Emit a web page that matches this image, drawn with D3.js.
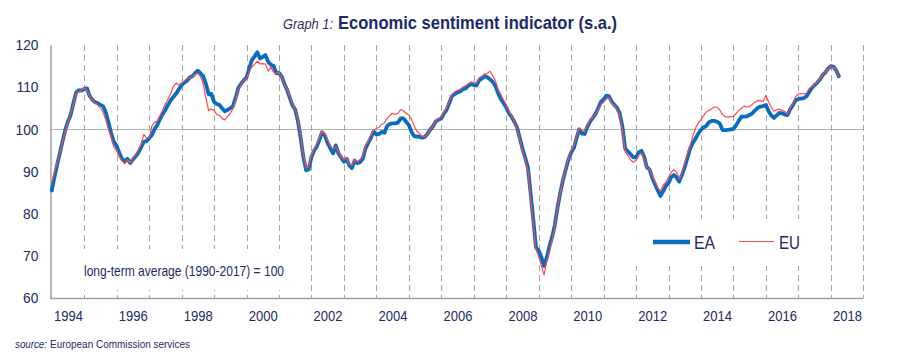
<!DOCTYPE html>
<html>
<head>
<meta charset="utf-8">
<script src="https://cdn.jsdelivr.net/npm/d3@7/dist/d3.min.js"></script>
<style>
  html, body { margin: 0; padding: 0; background: #ffffff; }
  svg { display: block; }
  text { font-family: 'Liberation Sans Narrow', 'Arial Narrow', 'Liberation Sans', Arial, sans-serif; }
</style>
</head>
<body>
<svg id="chart" width="903" height="357"></svg>
<script>
// ---- data (monthly, from January 1994) ----
const startMonth = "1994-01";
const eaValues = [
  85.5, 88.8, 91.5, 94.3, 97.1, 99.8, 101.8, 103.4, 106.2, 108.7, 109.3, 109.2,   // 1994
  109.6, 109.7, 108.0, 107.0, 106.5, 106.2, 105.8, 105.5, 104.0, 101.6, 99.0, 97.0, // 1995
  96.1, 94.3, 93.0, 92.4, 93.0, 92.0, 92.8, 93.6, 94.5, 95.7, 97.0, 97.2,         // 1996
  97.9, 98.7, 100.0, 101.0, 102.4, 103.6, 104.6, 105.8, 106.9, 107.7, 108.5, 109.5, // 1997
  110.5, 111.1, 111.5, 112.3, 112.6, 113.3, 113.9, 113.3, 112.6, 110.8, 108.3, 108.4, // 1998
  106.5, 106.0, 105.8, 105.0, 104.3, 104.6, 105.0, 105.5, 107.5, 109.8, 110.8, 111.6, // 1999
  112.3, 114.5, 116.4, 117.3, 118.3, 116.8, 117.2, 117.6, 116.0, 115.3, 115.0, 113.3, // 2000
  113.4, 112.5, 110.8, 109.4, 107.5, 105.7, 104.7, 102.0, 98.0, 93.5, 90.3, 90.5,   // 2001
  93.5, 95.0, 95.9, 97.6, 99.3, 98.5, 96.8, 95.5, 94.3, 96.2, 94.3, 93.3,           // 2002
  92.3, 93.0, 91.5, 90.8, 92.6, 92.0, 92.2, 93.0, 95.5, 96.8, 98.0, 99.5,           // 2003
  98.8, 98.9, 99.4, 99.2, 100.8, 101.3, 101.4, 101.4, 101.6, 102.6, 102.6, 101.8,   // 2004
  101.0, 99.3, 98.4, 98.3, 98.2, 98.0, 98.2, 99.0, 100.0, 100.8, 101.9, 102.3,      // 2005
  102.6, 103.8, 104.6, 106.3, 107.9, 108.4, 108.7, 109.0, 109.5, 109.7, 110.4, 110.7, // 2006
  110.5, 110.4, 111.6, 112.0, 112.6, 112.4, 111.9, 111.3, 110.3, 108.6, 107.2, 106.3, // 2007
  105.2, 103.8, 103.0, 101.8, 100.5, 98.0, 95.5, 93.3, 91.0, 85.0, 78.5, 72.0,      // 2008
  71.2, 69.6, 67.6, 69.5, 72.2, 74.5, 77.3, 81.5, 85.0, 88.0, 90.5, 92.8,           // 2009
  94.5, 95.6, 97.8, 100.0, 99.0, 98.9, 100.6, 101.8, 102.7, 103.6, 105.0, 106.5,    // 2010
  107.1, 108.0, 107.9, 106.6, 105.8, 105.1, 103.8, 100.6, 95.4, 94.8, 94.1, 93.4,   // 2011
  93.3, 94.6, 94.9, 93.5, 91.0, 90.5, 88.5, 87.0, 85.5, 84.2, 85.3, 86.6,           // 2012
  87.3, 88.7, 89.2, 88.6, 87.6, 89.2, 91.0, 93.2, 95.5, 96.8, 97.8, 99.0,           // 2013
  99.9, 100.5, 100.8, 101.7, 102.0, 102.0, 101.8, 101.3, 99.8, 99.8, 99.9, 100.0,   // 2014
  100.1, 101.0, 102.0, 103.0, 103.0, 103.1, 103.4, 103.8, 104.5, 105.1, 105.4, 105.5, // 2015
  105.8, 104.3, 103.3, 102.7, 103.3, 103.9, 103.8, 103.5, 103.4, 104.8, 105.8, 106.9, // 2016
  107.2, 107.3, 107.4, 107.8, 108.8, 109.8, 110.5, 111.1, 111.8, 112.9, 113.5, 114.4, // 2017
  115.0, 114.8, 114.0, 112.6                                                         // 2018
];
const euValues = [
  87.5, 89.8, 92.0, 94.5, 97.0, 99.5, 101.5, 103.5, 106.0, 108.5, 108.8, 109.3,     // 1994
  109.8, 109.3, 108.0, 106.8, 106.3, 105.8, 105.0, 104.0, 102.2, 100.0, 98.0, 95.8, // 1995
  95.0, 93.5, 92.5, 91.8, 92.8, 92.0, 93.2, 94.0, 95.0, 96.5, 98.8, 98.0,           // 1996
  98.0, 100.8, 101.6, 102.0, 103.2, 104.5, 106.0, 107.2, 108.5, 110.2, 111.0, 110.5, // 1997
  111.0, 111.5, 112.0, 112.3, 112.5, 113.0, 113.3, 112.5, 110.8, 107.5, 104.4, 104.8, // 1998
  104.5, 103.5, 103.4, 102.6, 102.2, 103.0, 103.8, 104.8, 107.0, 109.5, 110.6, 111.5, // 1999
  112.0, 113.8, 114.8, 115.4, 116.2, 115.5, 115.6, 115.5, 113.8, 114.8, 113.5, 113.2, // 2000
  113.5, 112.3, 110.6, 109.5, 107.8, 105.9, 104.8, 102.4, 98.5, 94.0, 90.8, 91.2,   // 2001
  94.0, 95.4, 96.6, 98.0, 99.6, 99.0, 97.5, 96.0, 95.3, 95.8, 94.6, 93.5,           // 2002
  92.8, 93.2, 91.8, 91.5, 92.8, 92.3, 92.8, 93.8, 96.2, 97.3, 98.6, 99.8,           // 2003
  100.2, 100.5, 101.2, 101.5, 102.6, 103.3, 103.8, 103.5, 103.8, 104.7, 104.4, 103.8, // 2004
  103.4, 102.3, 100.8, 99.6, 98.9, 98.3, 98.2, 98.9, 100.0, 100.9, 102.1, 102.6,    // 2005
  103.0, 104.2, 105.1, 106.8, 108.3, 108.9, 109.2, 109.5, 110.0, 110.3, 110.8, 111.2, // 2006
  111.2, 111.0, 112.2, 112.6, 113.1, 113.2, 113.8, 112.8, 111.6, 109.5, 108.3, 107.0, // 2007
  105.8, 104.3, 103.3, 101.8, 100.3, 97.6, 95.0, 92.8, 90.4, 84.0, 77.2, 71.5,      // 2008
  69.8, 67.5, 65.5, 68.5, 71.0, 73.8, 77.0, 81.3, 85.0, 88.2, 90.7, 93.2,           // 2009
  95.0, 96.3, 98.2, 100.3, 99.8, 99.4, 101.0, 102.1, 102.9, 103.6, 104.6, 105.9,    // 2010
  106.4, 107.2, 107.5, 106.1, 105.7, 104.8, 103.2, 99.8, 94.6, 93.8, 92.8, 92.2,    // 2011
  92.6, 93.9, 94.3, 93.0, 91.0, 90.6, 88.9, 87.6, 86.2, 85.3, 86.8, 87.4,           // 2012
  88.7, 89.9, 90.4, 89.8, 88.2, 89.8, 92.0, 94.3, 96.2, 98.4, 100.3, 101.5,         // 2013
  102.3, 103.3, 104.1, 104.5, 104.9, 105.3, 105.2, 104.6, 103.5, 103.0, 102.9, 103.0, // 2014
  103.0, 103.8, 104.5, 105.0, 105.5, 105.3, 105.4, 105.9, 106.5, 106.8, 106.8, 106.6, // 2015
  108.1, 106.5, 105.2, 104.3, 104.6, 104.8, 104.5, 104.2, 103.6, 105.0, 106.2, 107.8, // 2016
  108.4, 108.5, 108.4, 108.6, 109.7, 110.1, 110.8, 111.2, 111.9, 113.0, 113.6, 114.3, // 2017
  114.9, 114.7, 113.9, 112.5                                                         // 2018
];
const yTicks = [60, 70, 80, 90, 100, 110, 120];
const xLabelYears = [1994, 1996, 1998, 2000, 2002, 2004, 2006, 2008, 2010, 2012, 2014, 2016, 2018];
const gridYears = d3.range(1995, 2020);
const seriesNames = ["EA", "EU"];

// ---- layout ----
const svg = d3.select("#chart");
const navy = "#1b2a68";
const fontFam = "'Liberation Sans Narrow', 'Arial Narrow', 'Liberation Sans', Arial, sans-serif";
const parse = d3.timeParse("%Y-%m");
const t0 = parse(startMonth);
const dateOf = i => d3.timeMonth.offset(t0, i);

// condense text horizontally (narrow typeface look)
function condense(sel, factor) {
  sel.each(function () {
    const w = this.getComputedTextLength();
    d3.select(this).attr("textLength", (w * factor).toFixed(1)).attr("lengthAdjust", "spacingAndGlyphs");
  });
}

const x = d3.scaleTime()
  .domain([new Date(1994, 0, 1), new Date(2019, 0, 1)])
  .range([51.8, 863.3]);
const y = d3.scaleLinear().domain([60, 120]).range([298, 45]);

// dashed year separators
svg.append("g").selectAll("line").data(gridYears).join("line")
  .attr("x1", d => Math.round(x(new Date(d, 0, 1))) + 0.5)
  .attr("x2", d => Math.round(x(new Date(d, 0, 1))) + 0.5)
  .attr("y1", y(120)).attr("y2", y(60))
  .attr("stroke", "#a6a6a6").attr("stroke-width", 1)
  .attr("stroke-dasharray", "6,4");

// 100 reference line
svg.append("line")
  .attr("x1", 50).attr("x2", 863.3)
  .attr("y1", Math.round(y(100)) + 0.5).attr("y2", Math.round(y(100)) + 0.5)
  .attr("stroke", "#b4b4b4").attr("stroke-width", 1.2);

// white boxes behind annotation and legend
svg.append("rect").attr("x", 78).attr("y", 249).attr("width", 214).attr("height", 41).attr("fill", "#fff");
svg.append("rect").attr("x", 618).attr("y", 219).attr("width", 196).attr("height", 47).attr("fill", "#fff");

// axes
const yAxis = d3.axisLeft(y).tickValues(yTicks).tickSize(0).tickPadding(12);
const gy = svg.append("g").attr("transform", "translate(50.5,0)").call(yAxis);
gy.select(".domain").attr("stroke", "#a0a0a0").attr("stroke-width", 1.5);
gy.selectAll("text").attr("fill", navy).attr("font-size", 15).style("font-family", fontFam);
condense(gy.selectAll("text"), 0.92);

const xAxis = d3.axisBottom(x)
  .tickValues(xLabelYears.map(yr => new Date(yr, 6, 1)))
  .tickFormat(d3.timeFormat("%Y")).tickSize(0).tickPadding(12);
const gx = svg.append("g").attr("transform", "translate(0,298)").call(xAxis);
gx.select(".domain").attr("stroke", "#a0a0a0").attr("stroke-width", 1.5)
  .attr("d", "M50,0.5H863.3");
gx.selectAll("text").attr("fill", navy).attr("font-size", 15).style("font-family", fontFam);
condense(gx.selectAll("text"), 0.87);

// lines
const line = d3.line().x((d, i) => x(dateOf(i))).y(d => y(d));
svg.append("path").datum(eaValues)
  .attr("d", line).attr("fill", "none")
  .attr("stroke", "#0a6cc0").attr("stroke-width", 3.8)
  .attr("stroke-linejoin", "round").attr("stroke-linecap", "round");
svg.append("path").datum(euValues)
  .attr("d", line).attr("fill", "none")
  .attr("stroke", "#ff4a4a").attr("stroke-width", 1.2)
  .attr("stroke-linejoin", "round");

// legend
svg.append("line").attr("x1", 653).attr("x2", 690).attr("y1", 242).attr("y2", 242)
  .attr("stroke", "#0a6cc0").attr("stroke-width", 4.5);
svg.append("text").attr("x", 694).attr("y", 249).attr("fill", navy).attr("font-size", 19)
  .attr("textLength", 21).attr("lengthAdjust", "spacingAndGlyphs").text(seriesNames[0]);
svg.append("line").attr("x1", 739).attr("x2", 774).attr("y1", 241.5).attr("y2", 241.5)
  .attr("stroke", "#ff4a4a").attr("stroke-width", 1.2);
svg.append("text").attr("x", 779).attr("y", 249).attr("fill", navy).attr("font-size", 19)
  .attr("textLength", 21).attr("lengthAdjust", "spacingAndGlyphs").text(seriesNames[1]);

// annotation
svg.append("text").attr("x", 84).attr("y", 276).attr("fill", navy).attr("font-size", 14.5)
  .attr("textLength", 200).attr("lengthAdjust", "spacingAndGlyphs")
  .text("long-term average (1990-2017) = 100");

// title (two separate pieces)
svg.append("text").attr("x", 283).attr("y", 29)
  .attr("font-style", "italic").attr("font-size", 14).attr("fill", "#2a3560")
  .attr("textLength", 50).attr("lengthAdjust", "spacingAndGlyphs")
  .text("Graph 1:");
svg.append("text").attr("x", 338).attr("y", 29)
  .attr("font-weight", "bold").attr("font-size", 18.5).attr("fill", navy)
  .attr("textLength", 279).attr("lengthAdjust", "spacingAndGlyphs")
  .text("Economic sentiment indicator (s.a.)");

// source (two separate pieces)
svg.append("text").attr("x", 15).attr("y", 348).attr("font-size", 11.5).attr("fill", navy)
  .attr("font-style", "italic")
  .attr("textLength", 32).attr("lengthAdjust", "spacingAndGlyphs")
  .text("source:");
svg.append("text").attr("x", 50).attr("y", 348).attr("font-size", 11.5).attr("fill", navy)
  .attr("textLength", 140).attr("lengthAdjust", "spacingAndGlyphs")
  .text("European Commission services");
</script>
</body>
</html>
